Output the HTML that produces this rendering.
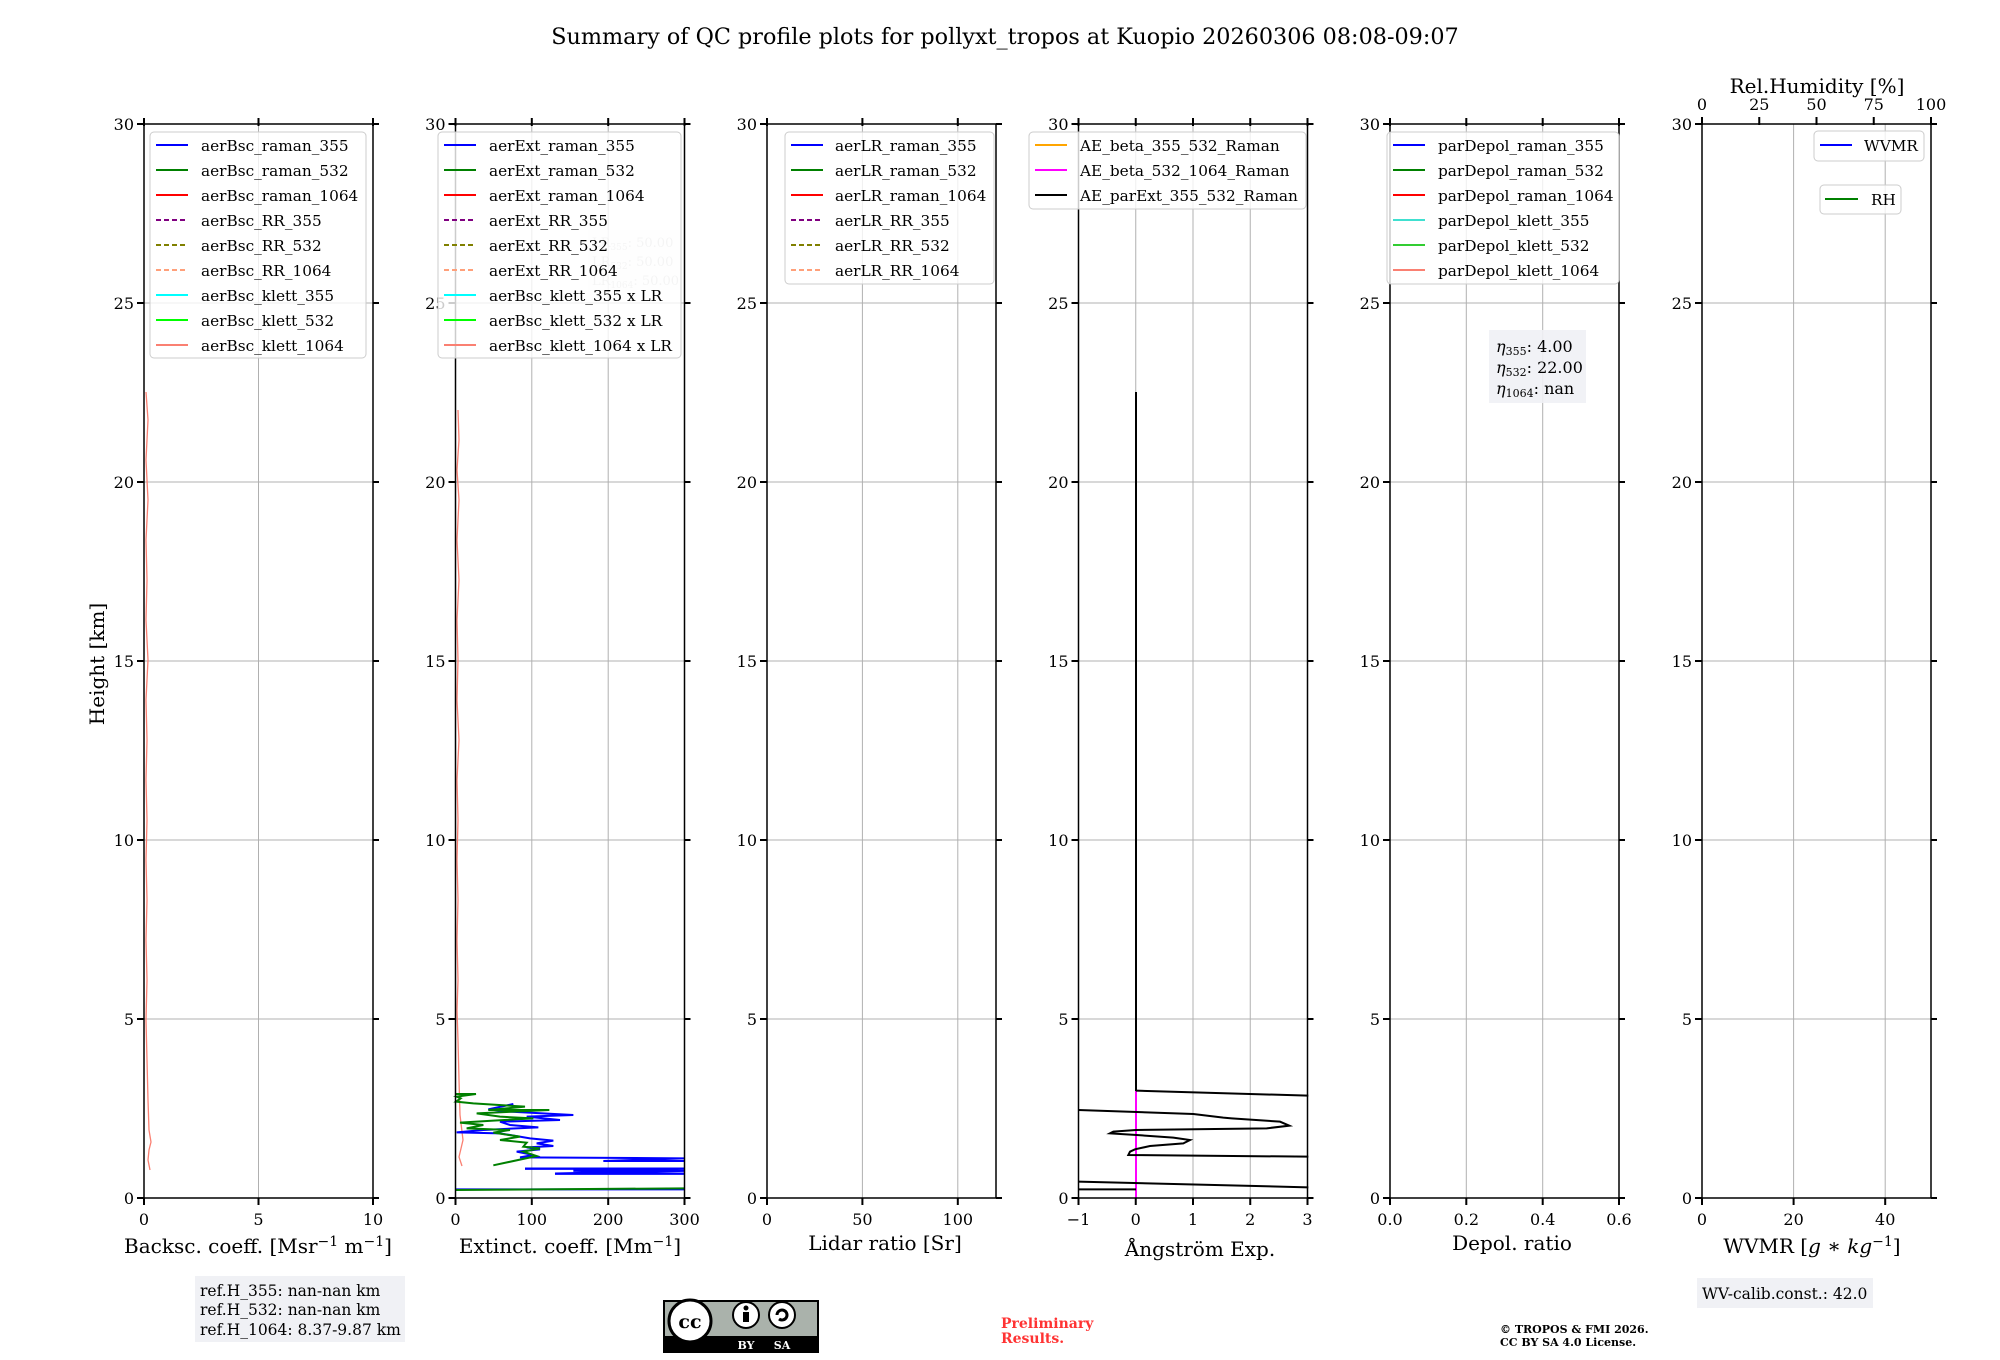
<!DOCTYPE html>
<html><head><meta charset="utf-8"><style>
html,body{margin:0;padding:0;background:#fff;}
svg{display:block;}
text{font-family:"DejaVu Serif","Liberation Serif",serif;fill:#000;}
.t{font-size:16px;}
.lg{font-size:15.3px;}
.al{font-size:20px;}
</style></head><body>
<svg width="2000" height="1360" viewBox="0 0 2000 1360" xmlns="http://www.w3.org/2000/svg">
<rect width="2000" height="1360" fill="#fff"/>
<text x="1005" y="44" font-size="22.3" text-anchor="middle">Summary of QC profile plots for pollyxt_tropos at Kuopio 20260306 08:08-09:07</text>

<g stroke="#b0b0b0" stroke-width="1">
<g id="hg">
<line x1="144" x2="373" y1="1019" y2="1019"/><line x1="144" x2="373" y1="840" y2="840"/><line x1="144" x2="373" y1="661" y2="661"/><line x1="144" x2="373" y1="482" y2="482"/><line x1="144" x2="373" y1="303" y2="303"/>
</g>
<use href="#hg" x="311.5"/><use href="#hg" x="623"/><use href="#hg" x="934.5"/><use href="#hg" x="1246"/><use href="#hg" x="1558"/>
<line x1="258.5" x2="258.5" y1="124" y2="1198"/>
<line x1="531.8" x2="531.8" y1="124" y2="1198"/><line x1="608.2" x2="608.2" y1="124" y2="1198"/>
<line x1="862.4" x2="862.4" y1="124" y2="1198"/><line x1="957.8" x2="957.8" y1="124" y2="1198"/>
<line x1="1135.75" x2="1135.75" y1="124" y2="1198"/><line x1="1193" x2="1193" y1="124" y2="1198"/><line x1="1250.25" x2="1250.25" y1="124" y2="1198"/>
<line x1="1466.3" x2="1466.3" y1="124" y2="1198"/><line x1="1542.7" x2="1542.7" y1="124" y2="1198"/>
<line x1="1793.6" x2="1793.6" y1="124" y2="1198"/><line x1="1885.2" x2="1885.2" y1="124" y2="1198"/>
</g>

<polyline fill="none" stroke="#fa8072" stroke-width="1.3" points="146,392 148,420 146,460 148,500 146,540 147,580 146,620 148,660 146,700 147,740 146,780 147,820 146,860 147,900 146,940 147,980 146,1020 147,1060 148,1100 149,1130 151,1142 149,1150 148,1160 150,1170"/>
<polyline fill="none" stroke="#fa8072" stroke-width="1.3" points="458,410 459,440 457,470 459,500 457,540 459,580 457,620 458,660 457,700 459,740 457,780 458,820 457,860 458,900 457,940 458,980 457,1010 458,1040 459,1080 460,1115 463,1140 459,1157 462,1166"/>
<g transform="translate(400,1050) scale(0.33333)" fill="none" stroke-width="6">
<polyline stroke="#0000ff" points="165,418 852,418"/>
<polyline stroke="#0000ff" points="340,162 265,178 330,185 520,195 380,200 480,210 300,215 330,225 415,232 250,240 170,247 300,250 390,265 460,272 410,280 460,288 380,292 420,298 350,305 400,315 360,322 852,325 610,333 852,333"/>
<polyline stroke="#0000ff" stroke-width="7" points="375,356 852,356 520,362 852,362 465,371 852,371"/>
<polyline stroke="#008000" points="165,132 228,132 170,140 182,145 168,155 220,160 375,170 265,180 448,180 230,190 300,200 400,205 280,212 180,218 250,225 200,235 330,240 280,248 360,260 300,270 380,278 370,290 420,295 370,305 410,318 280,346"/>
<polyline stroke="#008000" points="165,420 852,415"/>
</g>
<line x1="1136" y1="392" x2="1136" y2="1091" stroke="#000" stroke-width="2"/>
<line x1="1136" y1="1091" x2="1136" y2="1198" stroke="#ff00ff" stroke-width="2"/>
<g transform="translate(1050,1050) scale(0.33333)" fill="none" stroke="#000" stroke-width="6">
<polyline points="258,122 775,137"/>
<polyline points="85,180 430,192 520,203 545,205 690,215 718,227 650,235 258,240 190,245 180,250 260,255 370,263 420,270 400,280 300,288 255,298 240,305 235,315 775,320"/>
<polyline points="85,395 775,412"/>
<polyline points="85,418 258,418"/>
</g>

<g fill="none" stroke="#000" stroke-width="1.5">
<rect x="144" y="124" width="229" height="1074"/>
<rect x="455.5" y="124" width="229" height="1074"/>
<rect x="767" y="124" width="229" height="1074"/>
<rect x="1078.5" y="124" width="229" height="1074"/>
<rect x="1390" y="124" width="229" height="1074"/>
<rect x="1702" y="124" width="229" height="1074"/>
</g>
<g stroke="#000" stroke-width="2">
<g id="yt">
<path d="M137,1198h7M137,1019h7M137,840h7M137,661h7M137,482h7M137,303h7M137,124h7M373,1198h6M373,1019h6M373,840h6M373,661h6M373,482h6M373,303h6M373,124h6"/>
</g>
<use href="#yt" x="311.5"/><use href="#yt" x="623"/><use href="#yt" x="934.5"/><use href="#yt" x="1246"/><use href="#yt" x="1558"/>
<path d="M144,1198v7M258.5,1198v7M373,1198v7M144,118v8M258.5,118v8M373,118v8"/>
<path d="M455.5,1198v7M531.8,1198v7M608.2,1198v7M684.5,1198v7M455.5,118v8M531.8,118v8M608.2,118v8M684.5,118v8"/>
<path d="M767,1198v7M862.4,1198v7M957.8,1198v7M767,118v8M862.4,118v8M957.8,118v8"/>
<path d="M1078.5,1198v7M1135.75,1198v7M1193,1198v7M1250.25,1198v7M1307.5,1198v7M1078.5,118v8M1135.75,118v8M1193,118v8M1250.25,118v8M1307.5,118v8"/>
<path d="M1390,1198v7M1466.3,1198v7M1542.7,1198v7M1619,1198v7M1390,118v8M1466.3,118v8M1542.7,118v8M1619,118v8"/>
<path d="M1702,1198v7M1793.6,1198v7M1885.2,1198v7M1702,117v8M1759.25,117v8M1816.5,117v8M1873.75,117v8M1931,117v8"/>
</g>
<g class="t" text-anchor="end">
<g id="yl">
<text x="134" y="1204">0</text><text x="134" y="1025">5</text><text x="134" y="846">10</text><text x="134" y="667">15</text><text x="134" y="488">20</text><text x="134" y="309">25</text><text x="134" y="130">30</text>
</g>
<use href="#yl" x="311.5"/><use href="#yl" x="623"/><use href="#yl" x="934.5"/><use href="#yl" x="1246"/><use href="#yl" x="1558"/>
</g>
<g class="t" text-anchor="middle">
<text x="144" y="1225">0</text><text x="258.5" y="1225">5</text><text x="373" y="1225">10</text>
<text x="455.5" y="1225">0</text><text x="531.8" y="1225">100</text><text x="608.2" y="1225">200</text><text x="684.5" y="1225">300</text>
<text x="767" y="1225">0</text><text x="862.4" y="1225">50</text><text x="957.8" y="1225">100</text>
<text x="1078.5" y="1225">−1</text><text x="1135.75" y="1225">0</text><text x="1193" y="1225">1</text><text x="1250.25" y="1225">2</text><text x="1307.5" y="1225">3</text>
<text x="1390" y="1225">0.0</text><text x="1466.3" y="1225">0.2</text><text x="1542.7" y="1225">0.4</text><text x="1619" y="1225">0.6</text>
<text x="1702" y="1225">0</text><text x="1793.6" y="1225">20</text><text x="1885.2" y="1225">40</text>
<text x="1702" y="110">0</text><text x="1759.25" y="110">25</text><text x="1816.5" y="110">50</text><text x="1873.75" y="110">75</text><text x="1931" y="110">100</text>
</g>
<g class="al" text-anchor="middle">
<text x="258" y="1253">Backsc. coeff. [Msr<tspan dy="-7" font-size="14">−1</tspan><tspan dy="7"> m</tspan><tspan dy="-7" font-size="14">−1</tspan><tspan dy="7">]</tspan></text>
<text x="570" y="1253">Extinct. coeff. [Mm<tspan dy="-7" font-size="14">−1</tspan><tspan dy="7">]</tspan></text>
<text x="885" y="1250">Lidar ratio [Sr]</text>
<text x="1200" y="1256">Ångström Exp.</text>
<text x="1512" y="1250">Depol. ratio</text>
<text x="1812" y="1253">WVMR [<tspan font-style="italic">g</tspan> ∗ <tspan font-style="italic">kg</tspan><tspan dy="-7" font-size="14">−1</tspan><tspan dy="7">]</tspan></text>
<text x="1817" y="93">Rel.Humidity [%]</text>
<text transform="translate(104,664) rotate(-90)">Height [km]</text>
</g>

<g font-size="13">
<rect x="588" y="230" width="92" height="60" fill="#f4f5f8" opacity="0.5"/>
<text x="592" y="247" style="fill:#c8c8c8">LR<tspan font-size="9" dy="3">355</tspan><tspan dy="-3">: 50.00</tspan></text>
<text x="592" y="266" style="fill:#c8c8c8">LR<tspan font-size="9" dy="3">532</tspan><tspan dy="-3">: 50.00</tspan></text>
<text x="592" y="285" style="fill:#c8c8c8">LR<tspan font-size="9" dy="3">1064</tspan><tspan dy="-3">: 50.00</tspan></text>
</g>

<g class="lg">
<rect x="150" y="132" width="216" height="226" rx="4" fill="#fff" fill-opacity="0.8" stroke="#ccc"/>
<g stroke-width="2">
<line x1="156" x2="188" y1="145" y2="145" stroke="#0000ff"/>
<line x1="156" x2="188" y1="170" y2="170" stroke="#008000"/>
<line x1="156" x2="188" y1="195" y2="195" stroke="#ff0000"/>
<line x1="156" x2="188" y1="220" y2="220" stroke="#800080" stroke-dasharray="5,3"/>
<line x1="156" x2="188" y1="245" y2="245" stroke="#808000" stroke-dasharray="5,3"/>
<line x1="156" x2="188" y1="270" y2="270" stroke="#ffa07a" stroke-dasharray="5,3"/>
<line x1="156" x2="188" y1="295" y2="295" stroke="#00ffff"/>
<line x1="156" x2="188" y1="320" y2="320" stroke="#00ff00"/>
<line x1="156" x2="188" y1="345" y2="345" stroke="#fa8072"/>
</g>
<text x="201" y="151">aerBsc_raman_355</text><text x="201" y="176">aerBsc_raman_532</text><text x="201" y="201">aerBsc_raman_1064</text><text x="201" y="226">aerBsc_RR_355</text><text x="201" y="251">aerBsc_RR_532</text><text x="201" y="276">aerBsc_RR_1064</text><text x="201" y="301">aerBsc_klett_355</text><text x="201" y="326">aerBsc_klett_532</text><text x="201" y="351">aerBsc_klett_1064</text>
<rect x="438" y="132" width="243" height="226" rx="4" fill="#fff" fill-opacity="0.8" stroke="#ccc"/>
<g stroke-width="2">
<line x1="444" x2="476" y1="145" y2="145" stroke="#0000ff"/>
<line x1="444" x2="476" y1="170" y2="170" stroke="#008000"/>
<line x1="444" x2="476" y1="195" y2="195" stroke="#ff0000"/>
<line x1="444" x2="476" y1="220" y2="220" stroke="#800080" stroke-dasharray="5,3"/>
<line x1="444" x2="476" y1="245" y2="245" stroke="#808000" stroke-dasharray="5,3"/>
<line x1="444" x2="476" y1="270" y2="270" stroke="#ffa07a" stroke-dasharray="5,3"/>
<line x1="444" x2="476" y1="295" y2="295" stroke="#00ffff"/>
<line x1="444" x2="476" y1="320" y2="320" stroke="#00ff00"/>
<line x1="444" x2="476" y1="345" y2="345" stroke="#fa8072"/>
</g>
<text x="489" y="151">aerExt_raman_355</text><text x="489" y="176">aerExt_raman_532</text><text x="489" y="201">aerExt_raman_1064</text><text x="489" y="226">aerExt_RR_355</text><text x="489" y="251">aerExt_RR_532</text><text x="489" y="276">aerExt_RR_1064</text><text x="489" y="301">aerBsc_klett_355 x LR</text><text x="489" y="326">aerBsc_klett_532 x LR</text><text x="489" y="351">aerBsc_klett_1064 x LR</text>
<rect x="785" y="132" width="209" height="152" rx="4" fill="#fff" fill-opacity="0.8" stroke="#ccc"/>
<g stroke-width="2">
<line x1="791" x2="823" y1="145" y2="145" stroke="#0000ff"/>
<line x1="791" x2="823" y1="170" y2="170" stroke="#008000"/>
<line x1="791" x2="823" y1="195" y2="195" stroke="#ff0000"/>
<line x1="791" x2="823" y1="220" y2="220" stroke="#800080" stroke-dasharray="5,3"/>
<line x1="791" x2="823" y1="245" y2="245" stroke="#808000" stroke-dasharray="5,3"/>
<line x1="791" x2="823" y1="270" y2="270" stroke="#ffa07a" stroke-dasharray="5,3"/>
</g>
<text x="835" y="151">aerLR_raman_355</text><text x="835" y="176">aerLR_raman_532</text><text x="835" y="201">aerLR_raman_1064</text><text x="835" y="226">aerLR_RR_355</text><text x="835" y="251">aerLR_RR_532</text><text x="835" y="276">aerLR_RR_1064</text>
<rect x="1029" y="132" width="277" height="77" rx="4" fill="#fff" fill-opacity="0.8" stroke="#ccc"/>
<g stroke-width="2">
<line x1="1035" x2="1067" y1="145" y2="145" stroke="#ffa500"/>
<line x1="1035" x2="1067" y1="170" y2="170" stroke="#ff00ff"/>
<line x1="1035" x2="1067" y1="195" y2="195" stroke="#000"/>
</g>
<text x="1080" y="151">AE_beta_355_532_Raman</text><text x="1080" y="176">AE_beta_532_1064_Raman</text><text x="1080" y="201">AE_parExt_355_532_Raman</text>
<rect x="1387" y="132" width="232" height="152" rx="4" fill="#fff" fill-opacity="0.8" stroke="#ccc"/>
<g stroke-width="2">
<line x1="1393" x2="1425" y1="145" y2="145" stroke="#0000ff"/>
<line x1="1393" x2="1425" y1="170" y2="170" stroke="#008000"/>
<line x1="1393" x2="1425" y1="195" y2="195" stroke="#ff0000"/>
<line x1="1393" x2="1425" y1="220" y2="220" stroke="#40e0d0"/>
<line x1="1393" x2="1425" y1="245" y2="245" stroke="#32cd32"/>
<line x1="1393" x2="1425" y1="270" y2="270" stroke="#fa8072"/>
</g>
<text x="1438" y="151">parDepol_raman_355</text><text x="1438" y="176">parDepol_raman_532</text><text x="1438" y="201">parDepol_raman_1064</text><text x="1438" y="226">parDepol_klett_355</text><text x="1438" y="251">parDepol_klett_532</text><text x="1438" y="276">parDepol_klett_1064</text>
<rect x="1814" y="131" width="110" height="30" rx="4" fill="#fff" fill-opacity="0.8" stroke="#ccc"/>
<line x1="1820" x2="1852" y1="145" y2="145" stroke="#0000ff" stroke-width="2"/>
<text x="1864" y="151">WVMR</text>
<rect x="1820" y="185" width="81" height="29" rx="4" fill="#fff" fill-opacity="0.8" stroke="#ccc"/>
<line x1="1825" x2="1858" y1="199" y2="199" stroke="#008000" stroke-width="2"/>
<text x="1871" y="205">RH</text>
</g>

<rect x="1489" y="330" width="97" height="73" fill="#f0f1f5" opacity="0.9"/>
<g font-size="16">
<text x="1496" y="352"><tspan font-style="italic">η</tspan><tspan font-size="11" dy="3">355</tspan><tspan dy="-3">: 4.00</tspan></text>
<text x="1496" y="373"><tspan font-style="italic">η</tspan><tspan font-size="11" dy="3">532</tspan><tspan dy="-3">: 22.00</tspan></text>
<text x="1496" y="394"><tspan font-style="italic">η</tspan><tspan font-size="11" dy="3">1064</tspan><tspan dy="-3">: nan</tspan></text>
</g>

<rect x="195" y="1276" width="210" height="66" fill="#f0f1f5"/>
<g font-size="15.5">
<text x="200" y="1296">ref.H_355: nan-nan km</text>
<text x="200" y="1315">ref.H_532: nan-nan km</text>
<text x="200" y="1335">ref.H_1064: 8.37-9.87 km</text>
</g>
<rect x="1697" y="1278" width="176" height="30" fill="#f0f1f5"/>
<text x="1702" y="1299" font-size="15.5">WV-calib.const.: 42.0</text>

<g transform="translate(-2,-5)">
<rect x="665" y="1305" width="156" height="53" fill="#000"/>
<rect x="667" y="1307" width="152" height="34" fill="#aab2ab"/>
<circle cx="692" cy="1326" r="21" fill="#fff" stroke="#000" stroke-width="3"/>
<text x="692" y="1333" font-size="19" font-weight="bold" text-anchor="middle" font-family="Liberation Sans">cc</text>
<circle cx="748" cy="1320" r="13" fill="#fff" stroke="#000" stroke-width="2"/>
<circle cx="748" cy="1313" r="2.5" fill="#000"/>
<rect x="745" y="1317" width="6" height="10" fill="#000"/>
<circle cx="784" cy="1320" r="13" fill="#fff" stroke="#000" stroke-width="2"/>
<path d="M779,1320 a5,5 0 1 1 2,4" fill="none" stroke="#000" stroke-width="3"/>
<text x="748" y="1354" font-size="11" text-anchor="middle" font-weight="bold" style="fill:#fff">BY</text>
<text x="784" y="1354" font-size="11" text-anchor="middle" font-weight="bold" style="fill:#fff">SA</text>
</g>
<g font-size="14" font-weight="bold">
<text x="1001" y="1328" style="fill:#ff3333">Preliminary</text>
<text x="1001" y="1343" style="fill:#ff3333">Results.</text>
</g>
<g font-size="11" font-weight="bold">
<text x="1500" y="1333">© TROPOS &amp; FMI 2026.</text>
<text x="1500" y="1346">CC BY SA 4.0 License.</text>
</g>
</svg>
</body></html>
